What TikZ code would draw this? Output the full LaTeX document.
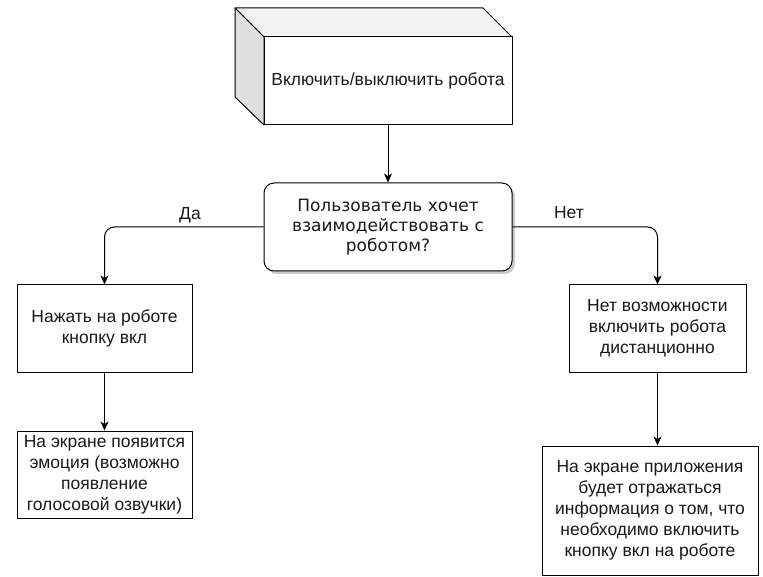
\documentclass[tikz,border=0pt]{standalone}
\usepackage{fontspec}
\setmainfont{Liberation Sans}
\newfontfamily\dvfont{DejaVu Sans}
\usetikzlibrary{arrows.meta,positioning}
\definecolor{topface}{HTML}{F2F2F2}
\definecolor{sideface}{HTML}{E0E0E0}
\definecolor{txt}{HTML}{1A1A1A}
\begin{document}
\begin{tikzpicture}[x=1pt,y=-1pt,
  box/.style={draw=black,line width=1pt,fill=white,align=center,inner sep=1pt,text=txt,font=\fontsize{17.5}{21}\selectfont},
  decbox/.style={draw=black,line width=1pt,fill=white,rounded corners=10pt,align=center,inner sep=1pt,text=txt,font=\dvfont\fontsize{17}{20}\selectfont},
  conn/.style={draw=black,line width=1pt,-{Stealth[length=9pt,width=8pt,inset=2.5pt]}},
  lbl/.style={text=txt,font=\fontsize{17.5}{20}\selectfont,inner sep=0pt}]
\useasboundingbox (0,0) rectangle (763,577);
% cube
\filldraw[fill=topface,line width=1pt,line join=round] (235,8) -- (483,8) -- (512,37) -- (264,37) -- cycle;
\filldraw[fill=sideface,line width=1pt,line join=round] (235,8) -- (264,37) -- (264,125) -- (235,97) -- cycle;
\node[box,minimum width=248pt,minimum height=88pt] (cube) at (388,81) {Включить/выключить робота};
% decision with shadow
\fill[black!35,opacity=0.6,rounded corners=10pt] (267,186) rectangle (515,274);
\node[decbox,minimum width=248pt,minimum height=88pt] (dec) at (388,227) {Пользователь хочет\\взаимодействовать с\\роботом?};
% boxes
\node[box,minimum width=175pt,minimum height=87pt] (yes1) at (104.5,328.5) {Нажать на роботе\\кнопку вкл};
\node[box,minimum width=175pt,minimum height=87pt] (yes2) at (104.5,474.5) {На экране появится\\эмоция (возможно\\появление\\голосовой озвучки)};
\node[box,minimum width=177pt,minimum height=87pt] (no1) at (657.5,328.5) {Нет возможности\\включить робота\\дистанционно};
\node[box,minimum width=216pt,minimum height=129pt] (no2) at (650,510.5) {На экране приложения\\будет отражаться\\информация о том, что\\необходимо включить\\кнопку вкл на роботе};
% connectors
\draw[conn] (cube.south) -- (dec.north);
\draw[conn,rounded corners=10pt] (dec.west) -| (yes1.north);
\draw[conn,rounded corners=10pt] (dec.east) -| (no1.north);
\draw[conn] (yes1.south) -- (yes2.north);
\draw[conn] (no1.south) -- (no1.south |- no2.north);
% labels
\node[lbl] (lyes) at (190,215) {Да};
\node[lbl] (lno) at (569,213) {Нет};
\end{tikzpicture}
\end{document}
